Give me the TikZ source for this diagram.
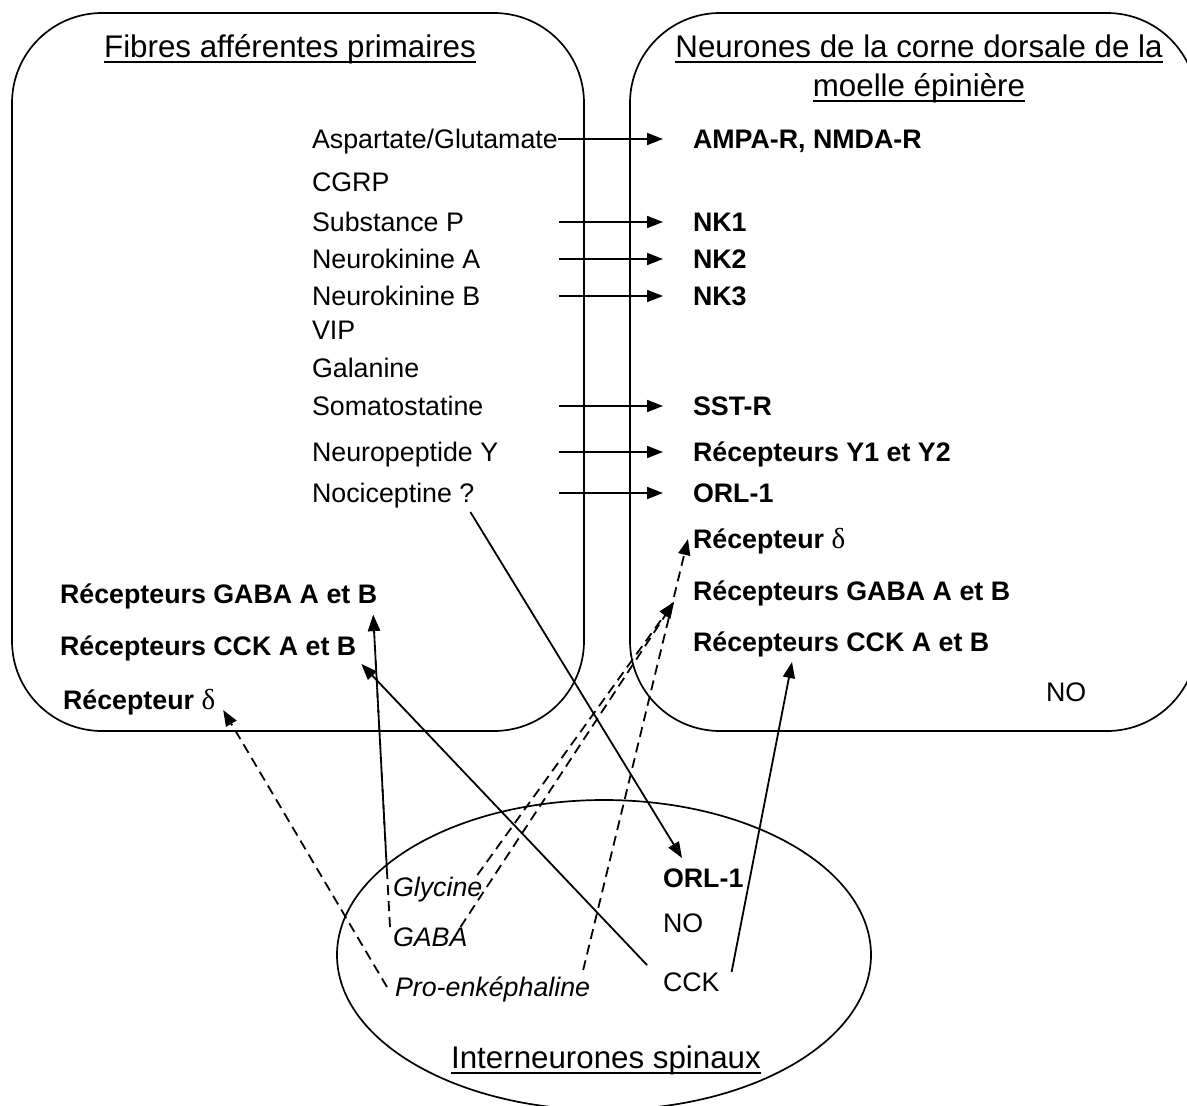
\documentclass[tikz,border=0pt]{standalone}
\usepackage{fontspec}
\setmainfont{Liberation Sans}
\newfontfamily\greekfont{Liberation Serif}
\usetikzlibrary{arrows.meta,calc}

\newcommand{\dlt}{{\greekfont\mdseries\fontsize{29}{32}\selectfont δ}}

\begin{document}
\begin{tikzpicture}[x=1pt,y=-1pt,
  every node/.style={inner sep=0pt,outer sep=0pt},
  lbl/.style={anchor=west,font=\fontsize{26.8}{32}\selectfont,text height=19pt,text depth=0pt},
  rec/.style={lbl,font=\fontsize{26.8}{32}\selectfont\bfseries},
  mol/.style={lbl,font=\fontsize{26.8}{32}\selectfont\itshape},
  ttl/.style={anchor=base,font=\fontsize{31.3}{38}\selectfont},
  uline/.style={line width=1.3pt},
  frame/.style={line width=1.7pt},
  link/.style={line width=1.8pt,-{Triangle[length=16pt,width=12pt]}},
  dlink/.style={link,dash pattern=on 10pt off 6pt},
]
\useasboundingbox (0,0) rectangle (1187,1106);

% compartments
\draw[frame,rounded corners=90pt] (12,13) rectangle (584,731);
\draw[frame,rounded corners=90pt] (630,13) rectangle (1197,731);
\draw[frame] (604,955) ellipse [x radius=267pt, y radius=155pt];

% titles
\node[ttl] (tFib)  at (290,57)  {Fibres afférentes primaires};
\node[ttl] (tNeu1) at (919,57)  {Neurones de la corne dorsale de la};
\node[ttl] (tNeu2) at (919,96)  {moelle épinière};
\node[ttl] (tInt)  at (606,1068) {Interneurones spinaux};
\foreach \t in {tFib,tNeu1,tNeu2,tInt}
  \draw[uline] ($(\t.base west)+(0,5)$) -- ($(\t.base east)+(0,5)$);

% mediators of the primary afferent fibres
\node[lbl] (asp)  at (312,139) {Aspartate/Glutamate};
\node[lbl] (cgrp) at (312,182) {CGRP};
\node[lbl] (subp) at (312,222) {Substance P};
\node[lbl] (nka)  at (312,259) {Neurokinine A};
\node[lbl] (nkb)  at (312,296) {Neurokinine B};
\node[lbl] (vip)  at (312,330) {VIP};
\node[lbl] (gal)  at (312,368) {Galanine};
\node[lbl] (som)  at (312,406) {Somatostatine};
\node[lbl] (npy)  at (312,452) {Neuropeptide Y};
\node[lbl] (noc)  at (312,493) {Nociceptine ?};

% receptors on the primary afferent fibres
\node[rec] (gabaL)  at (60,594) {Récepteurs GABA A et B};
\node[rec] (cckL)   at (60,646) {Récepteurs CCK A et B};
\node[rec] (deltaL) at (63,700) {Récepteur \dlt};

% receptors of the dorsal horn neurons
\node[rec] (ampa)   at (693,139) {AMPA-R, NMDA-R};
\node[rec] (nk1)    at (693,222) {NK1};
\node[rec] (nk2)    at (693,259) {NK2};
\node[rec] (nk3)    at (693,296) {NK3};
\node[rec] (sst)    at (693,406) {SST-R};
\node[rec] (y12)    at (693,452) {Récepteurs Y1 et Y2};
\node[rec] (orl)    at (693,493) {ORL-1};
\node[rec] (deltaR) at (693,539) {Récepteur \dlt};
\node[rec] (gabaR)  at (693,591) {Récepteurs GABA A et B};
\node[rec] (cckR)   at (693,642) {Récepteurs CCK A et B};
\node[lbl] (noR)    at (1046,692) {NO};

% spinal interneurons
\node[mol] (gly)  at (393,887) {Glycine};
\node[mol] (gaba) at (393,937) {GABA};
\node[mol] (pro)  at (395,987) {Pro-enképhaline};
\node[rec] (orl2) at (663,878) {ORL-1};
\node[lbl] (no2)  at (663,923) {NO};
\node[lbl] (cck)  at (663,982) {CCK};

% direct transmission to the dorsal horn
\coordinate (colL) at (559,0);
\coordinate (colR) at (663,0);
\draw[link] (asp.east) -- (colR |- ampa.west);
\draw[link] (colL |- subp.west) -- (colR |- nk1.west);
\draw[link] (colL |- nka.west)  -- (colR |- nk2.west);
\draw[link] (colL |- nkb.west)  -- (colR |- nk3.west);
\draw[link] (colL |- som.west)  -- (colR |- sst.west);
\draw[link] (colL |- npy.west)  -- (colR |- y12.west);
\draw[link] (colL |- noc.west)  -- (colR |- orl.west);

% solid links with the interneurons
\draw[link] ($(noc.east)+(-4,19)$)  -- ($(orl2.west)+(19,-20)$);
\draw[link] ($(cck.west)+(-16,-17)$) -- ($(cckL.east)+(5,18)$);
\draw[link] ($(cck.east)+(12,-10)$)  -- ($(cckR.west)+(99,20)$);

% dashed links with the interneurons
\draw[dlink] ($(pro.west)+(-8,0)$)    -- ($(deltaL.east)+(8,10)$);
\draw[dlink] ($(pro.east)+(-7,-17)$)  -- ($(deltaR.west)+(-5,0)$);
\draw[dlink] ($(gly.west)+(-6,-14)$)  -- ($(gabaL.east)+(-4,21)$);
\draw[dlink] ($(gaba.west)+(-3,-10)$) -- ($(gabaL.east)+(-4,21)$);
\draw[dlink] ($(gly.east)+(-5,-12)$)  -- ($(gabaR.west)+(-19,11)$);
\draw[dlink] ($(gaba.east)+(-7,-10)$) -- ($(gabaR.west)+(-19,11)$);
\end{tikzpicture}
\end{document}
